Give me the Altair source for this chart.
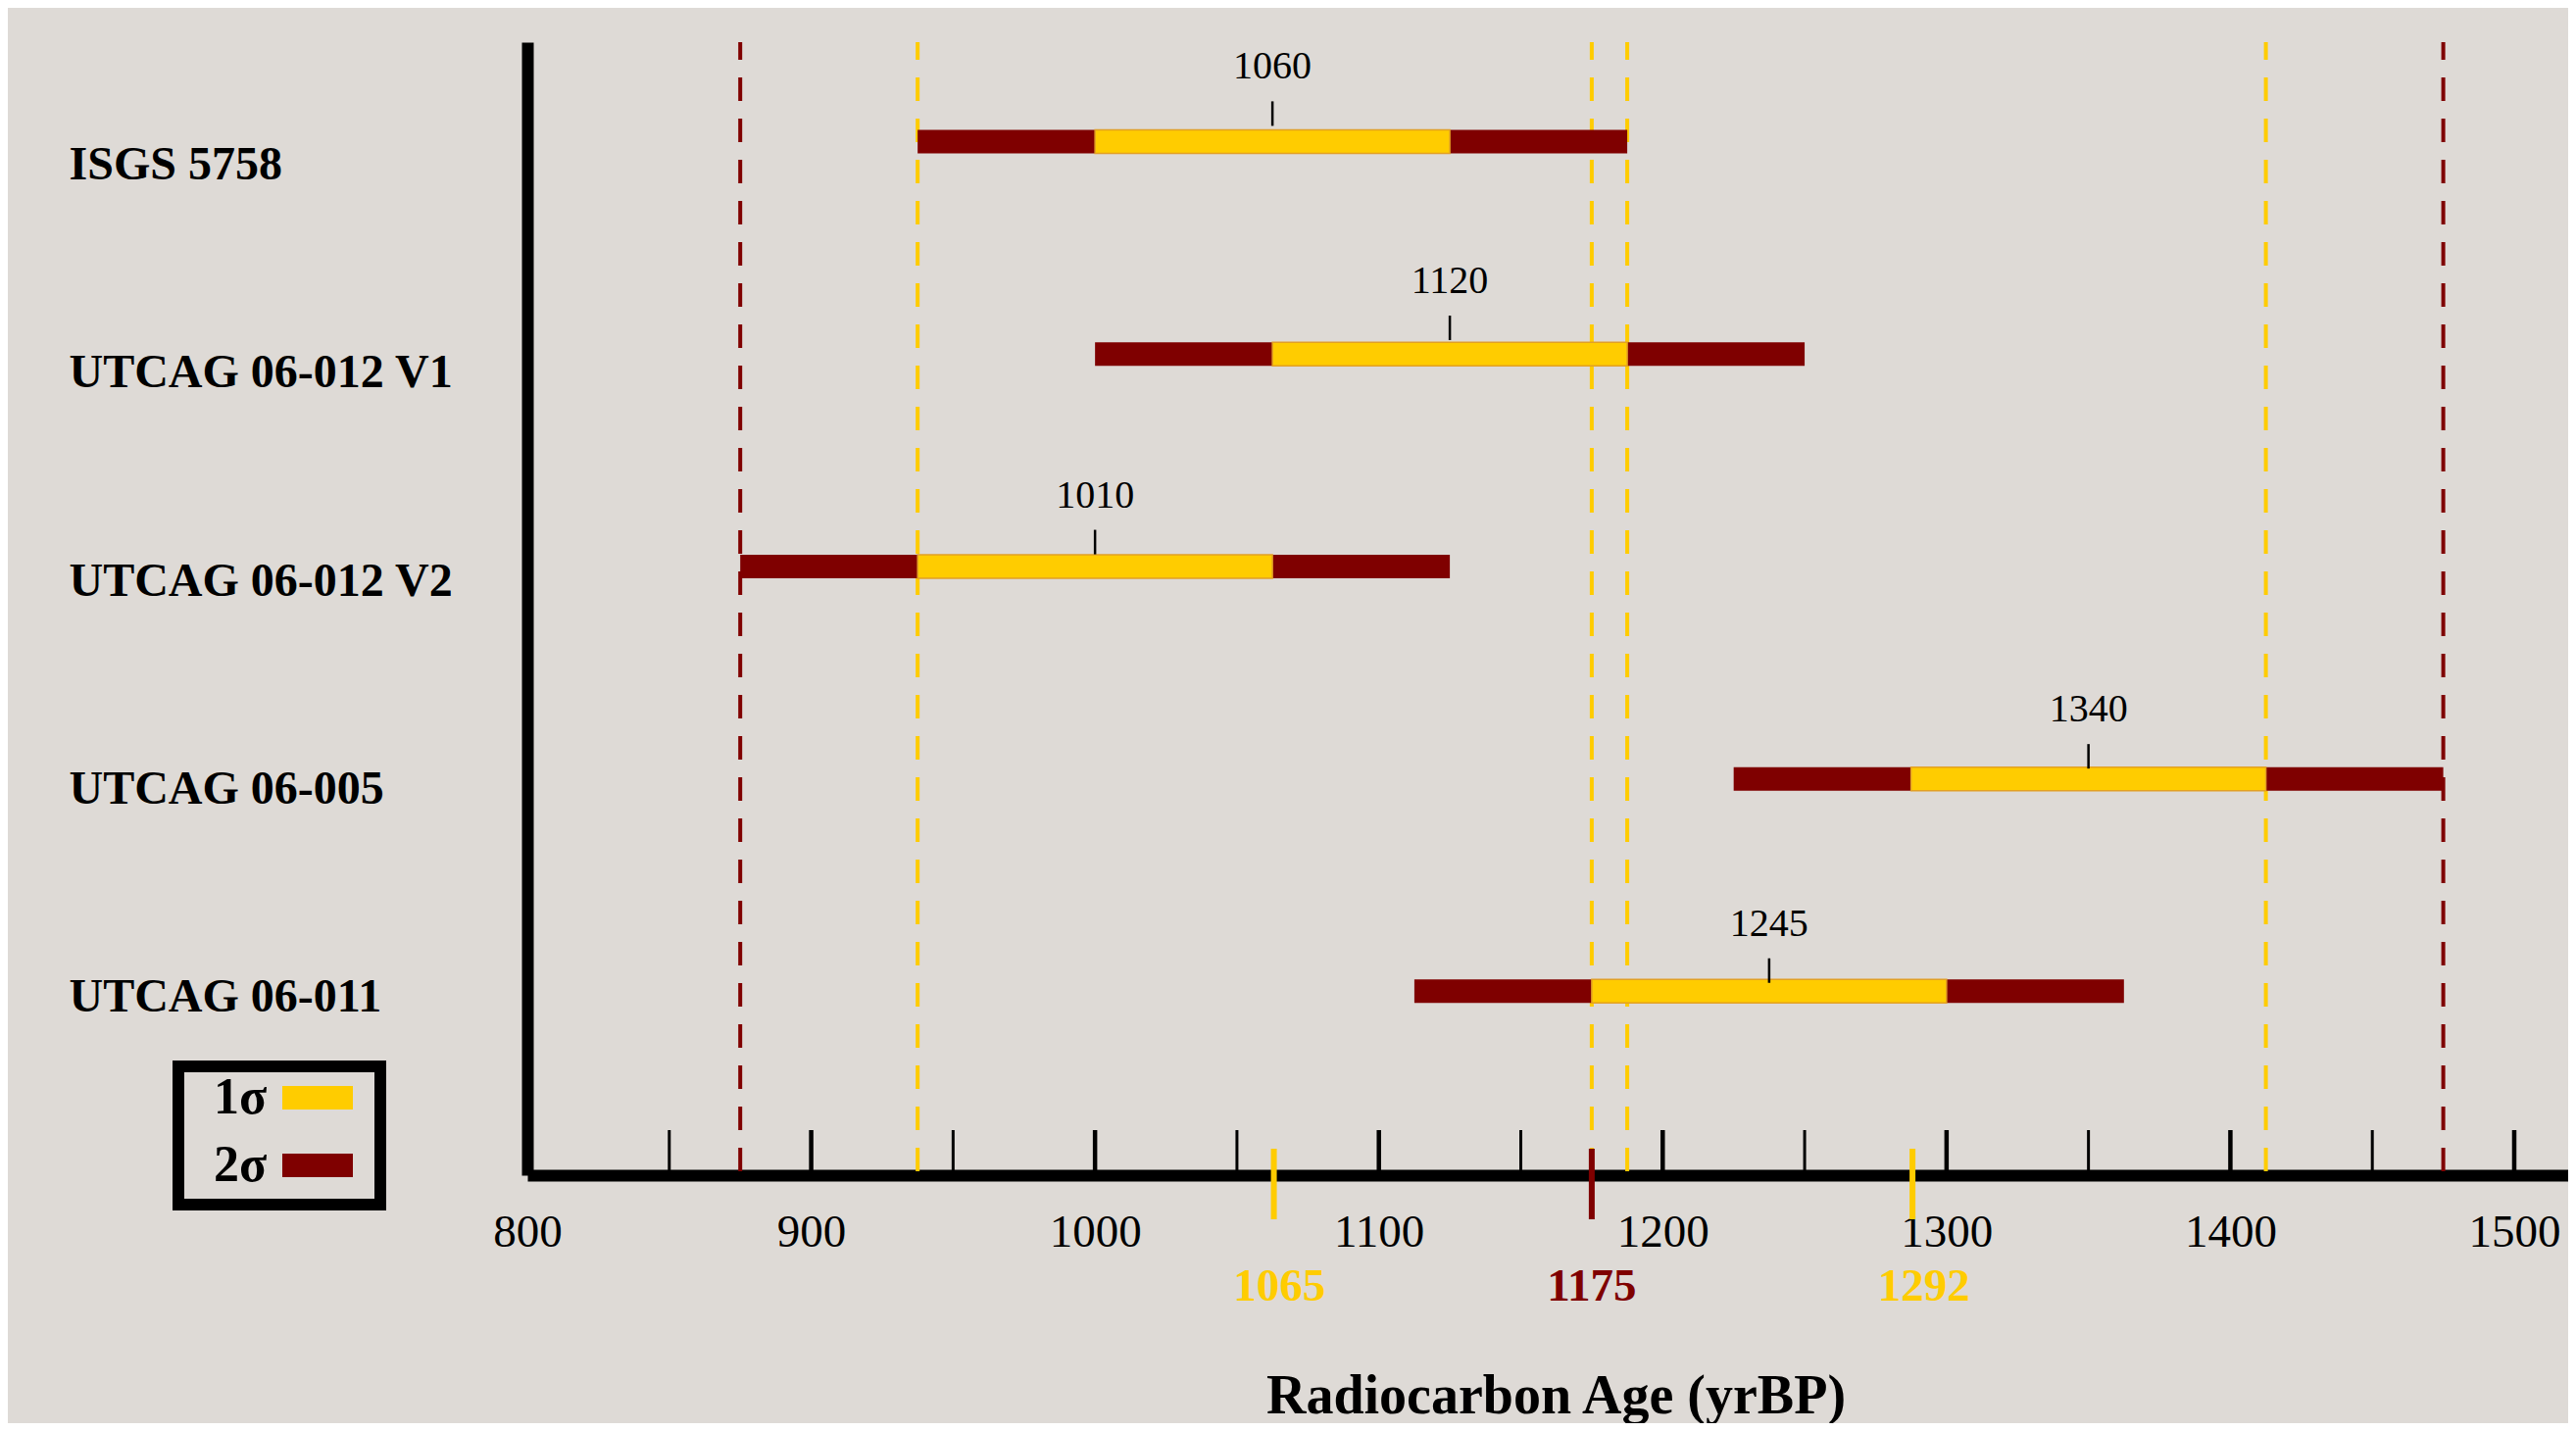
import altair as alt
import pandas as pd

# ---------------- data ----------------
samples = ["ISGS 5758", "UTCAG 06-012 V1", "UTCAG 06-012 V2", "UTCAG 06-005", "UTCAG 06-011"]
sigma2_lo = [937.5, 1000, 875, 1225, 1112.5]
sigma2_hi = [1187.5, 1250, 1125, 1475, 1362.5]
sigma1_lo = [1000, 1062.5, 937.5, 1287.5, 1175]
sigma1_hi = [1125, 1187.5, 1062.5, 1412.5, 1300]
mid_age = [1062.5, 1125, 1000, 1350, 1237.5]
mid_label = ["1060", "1120", "1010", "1340", "1245"]

bound_age = [875, 1475, 937.5, 1175, 1187.5, 1412.5]
bound_level = ["2σ", "2σ", "1σ", "1σ", "1σ", "1σ"]

axis_label_values = [800, 900, 1000, 1100, 1200, 1300, 1400, 1500]
major_ticks = [900, 1000, 1100, 1200, 1300, 1400, 1500]
minor_ticks = [850, 950, 1050, 1150, 1250, 1350, 1450]

marker_age = [1063, 1175, 1288]
marker_value = [1065, 1175, 1292]
marker_level = ["1σ", "2σ", "1σ"]

levels = ["1σ", "2σ"]
YELLOW = "#FFCC00"
DARKRED = "#7F0000"
level_colors = [YELLOW, DARKRED]
FONT = "Liberation Serif"

W, H = 2082, 1156

# ---------------- tables ----------------
bars = pd.DataFrame(
    [{"row": i, "level": "2σ", "lo": sigma2_lo[i], "hi": sigma2_hi[i]} for i in range(len(samples))]
    + [{"row": i, "level": "1σ", "lo": sigma1_lo[i], "hi": sigma1_hi[i]} for i in range(len(samples))]
)
mids = pd.DataFrame({"row": list(range(len(samples))), "mid": mid_age, "label": mid_label})
names = pd.DataFrame({"row": list(range(len(samples))), "sample": samples})
bounds = pd.DataFrame({"age": bound_age, "level": bound_level})
majors = pd.DataFrame({"age": major_ticks})
minors = pd.DataFrame({"age": minor_ticks})
markers = pd.DataFrame({"age": marker_age, "value": marker_value,
                        "text": [str(v) for v in marker_value], "level": marker_level})

xscale = alt.Scale(domain=[800, 1519], nice=False, zero=False)
xaxis = alt.Axis(
    values=axis_label_values, title="Radiocarbon Age (yrBP)", grid=False, format="d",
    domain=True, domainColor="black", domainWidth=12,
    ticks=False, tickSize=0,
    labelFont=FONT, labelFontSize=47, labelColor="black", labelPadding=58,
    labelBaseline="middle", labelFlush=False, labelOverlap=False, labelBound=False,
    titleFont=FONT, titleFontWeight="bold", titleFontSize=56, titleColor="black",
    titleBaseline="middle", titleY=225, titleX=1049, titleAlign="center",
)
bar_yscale = alt.Scale(domain=[-0.4456, 4.843], reverse=True, nice=False, zero=False)
name_yscale = alt.Scale(domain=[-0.5907, 4.854], reverse=True, nice=False, zero=False)
level_scale = alt.Scale(domain=levels, range=level_colors)

label_expr = "[" + ",".join("'" + s + "'" for s in samples) + "][datum.value]"


def X(field):
    return alt.X(field, type="quantitative", scale=xscale, axis=xaxis)


legend = alt.Legend(
    title=None, orient="none", legendX=-356, legendY=1045, direction="vertical",
    labelFont=FONT, labelFontWeight="bold", labelFontSize=52, labelColor="black",
    labelAlign="left", labelBaseline="middle", labelOffset={"expr": "-132"}, labelLimit=300,
    symbolType="M-3,-1H3V1H-3Z", symbolSize=576, symbolOffset=110,
    symbolStrokeWidth=11, symbolStrokeColor="transparent",
    padding=6, rowPadding=1, strokeColor="black",
)

bar_layer = alt.Chart(bars).mark_bar(orient="horizontal", size=24).encode(
    x=X("lo"),
    x2="hi:Q",
    y=alt.Y("row:Q", scale=bar_yscale, axis=None),
    color=alt.Color("level:N", scale=level_scale, legend=legend),
    stroke=alt.condition("datum.level == '1σ'", alt.value("#E2A024"), alt.value("transparent")),
    strokeWidth=alt.value(1.5),
)

name_layer = alt.Chart(names).mark_point(opacity=0).encode(
    y=alt.Y(
        "row:Q", scale=name_yscale,
        axis=alt.Axis(
            orient="left", values=list(range(len(samples))), labelExpr=label_expr,
            title=None, grid=False, ticks=False, tickSize=0,
            domain=True, domainColor="black", domainWidth=12,
            labelFont=FONT, labelFontWeight="bold", labelFontSize=48, labelColor="black",
            labelAlign="left", labelBaseline="middle", labelPadding=468, labelLimit=700,
            labelOverlap=False, labelBound=False, labelFlush=False,
        ),
    ),
)

layers = [name_layer]

# dashed bounds: one layer per sigma level
for lvl, col in zip(levels, level_colors):
    layers.append(
        alt.Chart(bounds).transform_filter(alt.datum.level == lvl)
        .mark_rule(strokeDash=[24, 18], strokeDashOffset=6, strokeWidth=4, color=col)
        .encode(x=X("age"))
    )

layers.append(bar_layer)

layers.append(alt.Chart(majors).mark_rule(strokeWidth=4.5, color="black").encode(
    x=X("age"), y=alt.value(H - 46), y2=alt.value(H)))
layers.append(alt.Chart(minors).mark_rule(strokeWidth=3, color="black").encode(
    x=X("age"), y=alt.value(H - 46), y2=alt.value(H)))

for lvl, col in zip(levels, level_colors):
    layers.append(
        alt.Chart(markers).transform_filter(alt.datum.level == lvl)
        .mark_rule(strokeWidth=6, color=col)
        .encode(x=X("age"), y=alt.value(H - 27), y2=alt.value(H + 45))
    )
    layers.append(
        alt.Chart(markers).transform_filter(alt.datum.level == lvl)
        .mark_text(font=FONT, fontWeight="bold", fontSize=47, baseline="middle",
                   align="center", color=col)
        .encode(x=X("value"), y=alt.value(H + 114), text="text:N")
    )

layers.append(alt.Chart(mids).mark_rule(yOffset=-12, y2Offset=-37, strokeWidth=2.5, color="black").encode(
    x=X("mid"),
    y=alt.Y("row:Q", scale=bar_yscale, axis=None),
    y2="row:Q",
))
layers.append(alt.Chart(mids).mark_text(
    dy=-72, font=FONT, fontSize=40, baseline="middle", align="center", color="black"
).encode(
    x=X("mid"),
    y=alt.Y("row:Q", scale=bar_yscale, axis=None),
    text="label:N",
))

chart = alt.layer(*layers).resolve_scale(y="independent").properties(
    width=W, height=H,
    padding={"left": 530, "top": 35, "right": 0, "bottom": 253},
    autosize=alt.AutoSizeParams(type="none"),
    background="#DEDAD6",
).configure_view(stroke=None).configure_legend(strokeWidth=12)

chart.save("out.html", embed_options={"renderer": "svg", "actions": False})
